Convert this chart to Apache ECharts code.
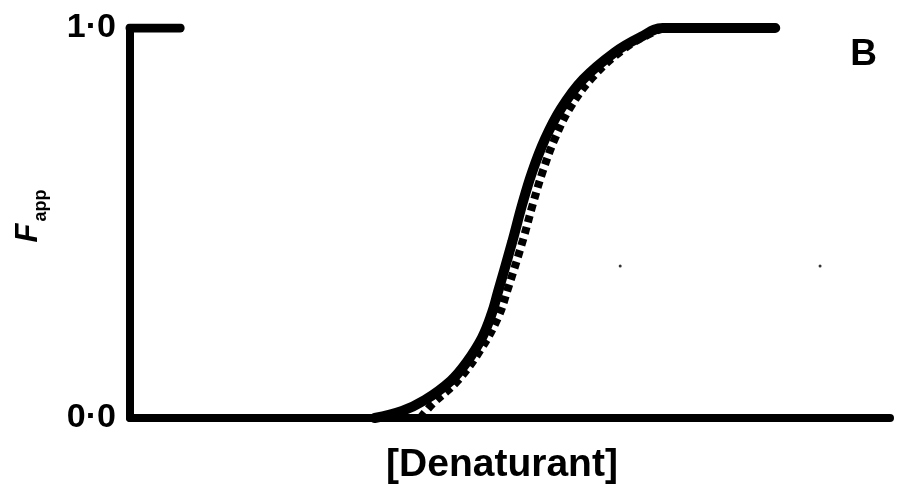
<!DOCTYPE html>
<html>
<head>
<meta charset="utf-8">
<script src="https://cdn.jsdelivr.net/npm/echarts@6/dist/echarts.min.js"></script>
<style>
  html, body { margin: 0; padding: 0; background: #fff; }
  #main { width: 908px; height: 487px; }
</style>
</head>
<body>
<div id="main"></div>
<script>
// denaturant axis in arbitrary units 0..100, F_app 0..1
var solidX = [32.2, 35.8, 38.8, 42.2, 44.3, 46.3, 47.6, 48.4, 50.3, 51.6, 52.9, 54.6, 56.7, 59.6, 63.8, 67.2, 70.1, 84.9];
var solidF = [0.0, 0.018, 0.046, 0.095, 0.143, 0.205, 0.268, 0.322, 0.452, 0.547, 0.63, 0.715, 0.793, 0.868, 0.938, 0.977, 1.0, 1.0];

var dashX = [38.2, 39.8, 43.1, 46.1, 48.4, 49.7, 51.7, 53.0, 54.3, 55.9, 57.9, 60.8, 64.7, 68.0, 70.9, 75.0];
var dashF = [0.0, 0.036, 0.095, 0.174, 0.256, 0.33, 0.456, 0.548, 0.632, 0.716, 0.795, 0.872, 0.942, 0.981, 1.0, 1.0];

var tickX = [0, 6.6];
var tickF = [1.0, 1.0];

var speckX = [64.5, 90.8];
var speckF = [0.39, 0.39];

var yTicks = ['0·0', '1·0'];

function pairs(xs, ys) {
  var out = [];
  for (var i = 0; i < xs.length; i++) out.push([xs[i], ys[i]]);
  return out;
}

var font = 'Liberation Sans';

var option = {
  animation: false,
  backgroundColor: '#fff',
  title: {
    text: 'B',
    right: 26,
    top: 31,
    textStyle: { fontFamily: font, fontWeight: 'bold', fontSize: 37, color: '#000' }
  },
  grid: { left: 130, right: 18, top: 28, bottom: 69, outerBoundsMode: 'none' },
  xAxis: {
    type: 'value',
    min: 0,
    max: 100,
    name: '[Denaturant]',
    nameLocation: 'middle',
    nameGap: 28,
    nameTextStyle: { fontFamily: font, fontWeight: 'bold', fontSize: 39, color: '#000', padding: [0, 16, 0, 0] },
    axisLine: { lineStyle: { color: '#000', width: 8 } },
    axisTick: { show: false },
    axisLabel: { show: false },
    splitLine: { show: false }
  },
  yAxis: {
    type: 'value',
    min: 0,
    max: 1,
    interval: 1,
    name: '{i|F}{s|app}',
    nameLocation: 'middle',
    nameRotate: 90,
    nameGap: 80,
    nameTextStyle: {
      padding: [0, 0, 0, 14],
      rich: {
        i: { fontFamily: font, fontStyle: 'italic', fontWeight: 'bold', fontSize: 31, color: '#000' },
        s: { fontFamily: font, fontWeight: 'bold', fontSize: 18, color: '#000', padding: [26, 0, 0, 2] }
      }
    },
    axisLine: { show: true, lineStyle: { color: '#000', width: 8 } },
    axisTick: { show: false },
    axisLabel: {
      margin: 14,
      fontFamily: font,
      fontWeight: 'bold',
      fontSize: 34,
      color: '#000',
      formatter: function (v) { return yTicks[Math.round(v)]; }
    },
    splitLine: { show: false }
  },
  series: [
    {
      name: 'dashed',
      type: 'line',
      data: pairs(dashX, dashF),
      smooth: 0.4,
      symbol: 'none',
      lineStyle: { color: '#000', width: 8, type: [7, 5] },
      z: 2
    },
    {
      name: 'solid',
      type: 'line',
      data: pairs(solidX, solidF),
      smooth: 0.4,
      symbol: 'none',
      lineStyle: { color: '#000', width: 10, cap: 'round' },
      z: 3
    },
    {
      name: 'tick',
      type: 'line',
      data: pairs(tickX, tickF),
      symbol: 'none',
      lineStyle: { color: '#000', width: 9, cap: 'round' },
      z: 3
    },
    {
      name: 'specks',
      type: 'scatter',
      data: pairs(speckX, speckF),
      symbolSize: 3,
      itemStyle: { color: '#000' }
    }
  ]
};

var myChart = echarts.init(document.getElementById('main'));
myChart.setOption(option);
</script>
</body>
</html>
